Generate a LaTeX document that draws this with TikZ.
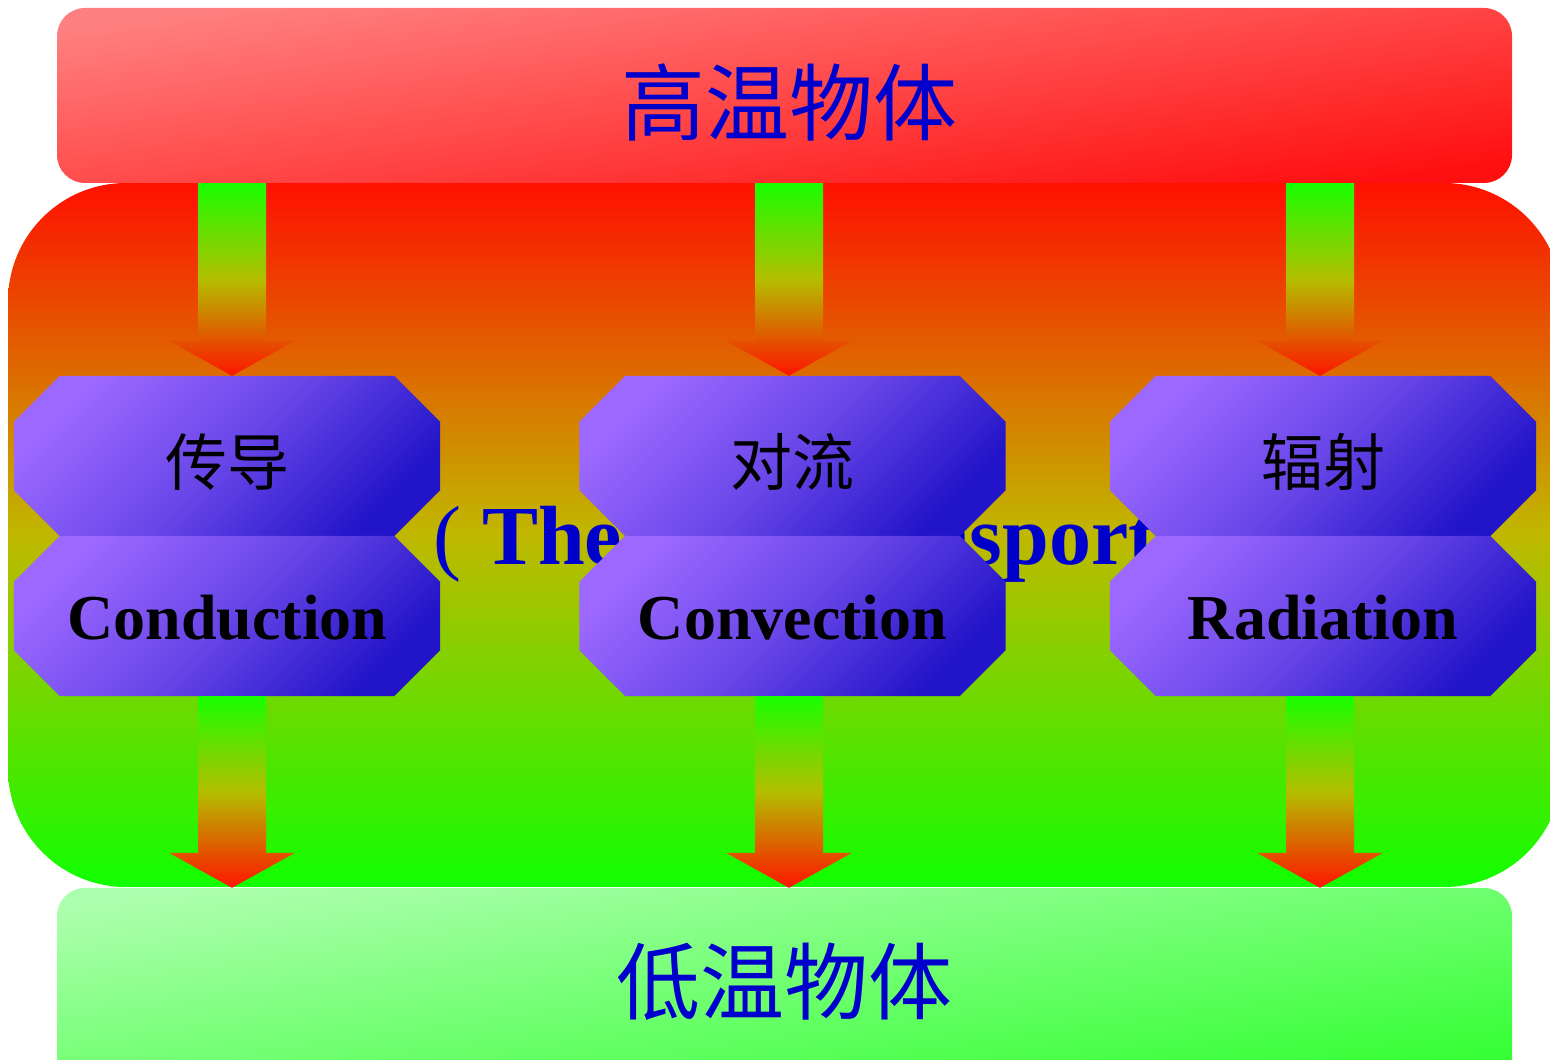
\documentclass[tikz,border=0pt]{standalone}
\usepackage{fontspec}
\setmainfont{Liberation Serif}
\newfontfamily\cjk{Noto Sans CJK SC}
\usetikzlibrary{calc}
\definecolor{tblue}{RGB}{0,0,204}
\definecolor{hotTop}{RGB}{255,128,128}
\definecolor{hotBot}{RGB}{255,16,16}
\definecolor{coldTop}{RGB}{172,255,172}
\definecolor{coldBot}{RGB}{50,255,50}
\definecolor{bigTop}{RGB}{255,16,0}
\definecolor{bigMid}{RGB}{192,184,0}
\definecolor{bigBot}{RGB}{16,255,0}
\definecolor{arGreen}{RGB}{25,255,0}
\definecolor{arMid}{RGB}{180,190,0}
\definecolor{arRed}{RGB}{255,20,0}
\definecolor{octLight}{RGB}{156,104,255}
\definecolor{octMid}{RGB}{104,70,232}
\definecolor{octDark}{RGB}{34,20,200}
\tikzset{
  hotbar/.style={rectangle, rounded corners=28pt, minimum width=1455pt, minimum height=175pt, inner sep=0pt, top color=hotTop, bottom color=hotBot, shading angle=8},
  coldbar/.style={rectangle, rounded corners=28pt, minimum width=1455pt, minimum height=200pt, inner sep=0pt, top color=coldTop, bottom color=coldBot, shading angle=8},
  octbox/.style={rectangle, minimum width=426pt, minimum height=160pt, inner sep=0pt, draw=none},
  octshade/.style={top color=octLight, bottom color=octDark, middle color=octMid, shading angle=45},
  arrowshade/.style={top color=arGreen, bottom color=arRed, middle color=arMid},
  titletext/.style={font=\cjk\fontsize{84}{90}\selectfont, text=tblue, inner sep=0pt},
  cjklbl/.style={font=\cjk\fontsize{62}{70}\selectfont, text=black, inner sep=0pt},
  enlbl/.style={font=\fontsize{64}{70}\selectfont\bfseries, text=black, inner sep=0pt, anchor=base},
  bgtext/.style={font=\fontsize{84}{90}\selectfont\bfseries, text=tblue, inner sep=0pt, anchor=base west}
}
\newcommand\octo[3]{%
  \node[octbox] (#1) at (#2,#3) {};
  \shade[octshade] ([xshift=46pt]#1.north west) -- ([xshift=-46pt]#1.north east)
    -- ([yshift=-46pt]#1.north east) -- ([yshift=46pt]#1.south east)
    -- ([xshift=-46pt]#1.south east) -- ([xshift=46pt]#1.south west)
    -- ([yshift=46pt]#1.south west) -- ([yshift=-46pt]#1.north west) -- cycle;
}
% #1 start node anchor (top), #2 tip node anchor, #3 node giving x, #4 x offset
\newcommand\fatarrow[4]{%
  \path let \p1=(#1), \p2=(#2), \p3=(#3) in
    coordinate (at-t) at (\x3+#4,\y1) coordinate (at-h) at (\x3+#4,\y2);
  \shade[arrowshade] ([xshift=-34pt]at-t) -- ([xshift=34pt]at-t) -- ([xshift=34pt,yshift=35pt]at-h)
    -- ([xshift=63pt,yshift=35pt]at-h) -- (at-h) -- ([xshift=-63pt,yshift=35pt]at-h)
    -- ([xshift=-34pt,yshift=35pt]at-h) -- cycle;
}
\begin{document}
\begin{tikzpicture}[x=1pt,y=1pt]
\useasboundingbox (0,0) rectangle (1550,1060);
\clip (0,0) rectangle (1550,1060);
% big background panel
\shade[top color=bigTop, bottom color=bigBot, middle color=bigMid, rounded corners=118pt] (8,173) rectangle (1562,877);
% bars
\node[hotbar] (hot) at (784.5,964.5) {};
\node[coldbar] (cold) at (784.5,72) {};
\node[titletext] (hotT) at (789,958) {高温物体};
\node[titletext] (coldT) at (784,78) {低温物体};
% background text
\node[bgtext] (bgt) at (433,495) {{\mdseries(} Thermal transport )};
% octagon nodes
\octo{c1a}{227}{604}
\octo{c1b}{227}{444}
\octo{c2a}{792.5}{604}
\octo{c2b}{792.5}{444}
\octo{c3a}{1323}{604}
\octo{c3b}{1323}{444}
% arrows
\fatarrow{hot.south}{c1a.north}{c1a}{5pt}
\fatarrow{hot.south}{c2a.north}{c2a}{-3.5pt}
\fatarrow{hot.south}{c3a.north}{c3a}{-3pt}
\fatarrow{c1b.south}{cold.north}{c1b}{5pt}
\fatarrow{c2b.south}{cold.north}{c2b}{-3.5pt}
\fatarrow{c3b.south}{cold.north}{c3b}{-3pt}
% labels
\node[cjklbl] (l1a) at (227,598) {传导};
\node[cjklbl] (l2a) at (792,598) {对流};
\node[cjklbl] (l3a) at (1323,598) {辐射};
\node[enlbl] (l1b) at (227.5,420) {Conduction};
\node[enlbl] (l2b) at (792.5,420) {Convection};
\node[enlbl] (l3b) at (1323,420) {Radiation};
\end{tikzpicture}
\end{document}
